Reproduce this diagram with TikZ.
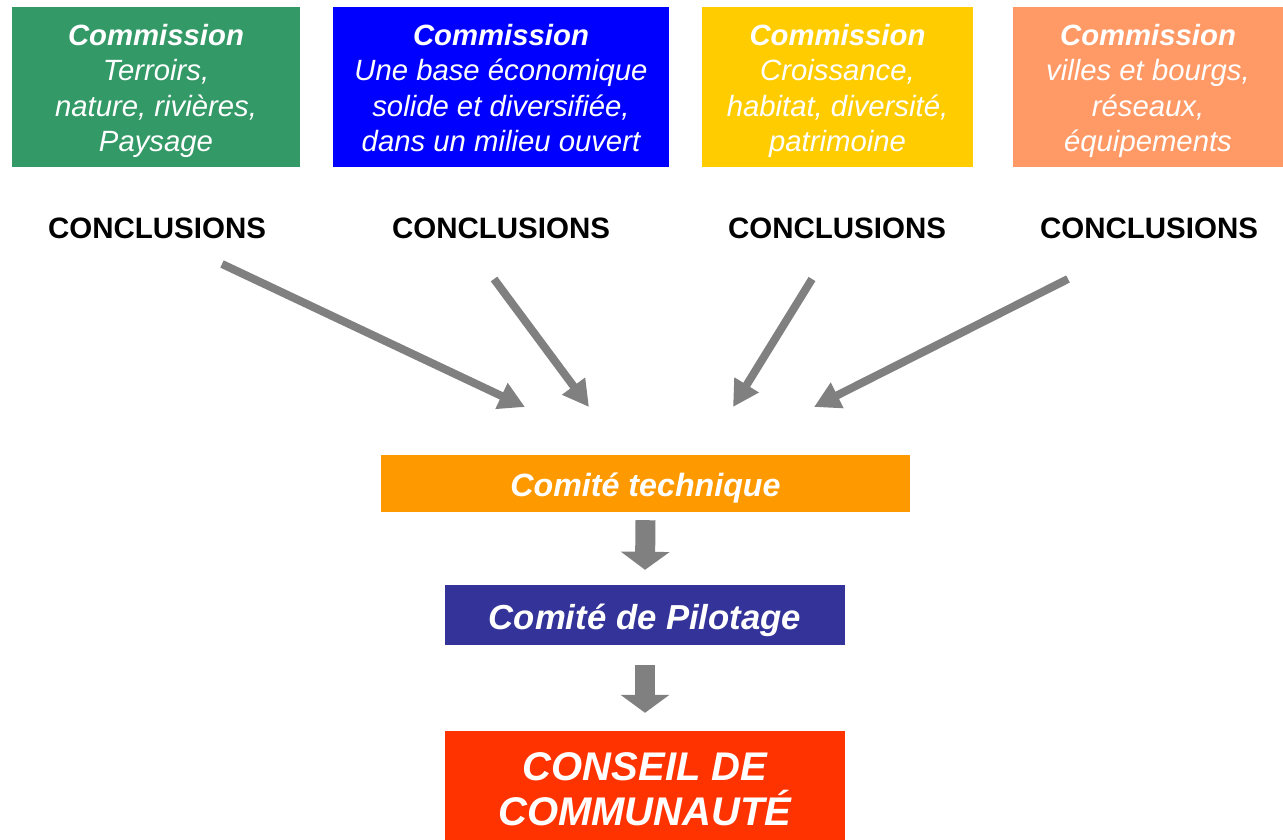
\documentclass[tikz,border=0pt]{standalone}
\usepackage{fontspec}
\setmainfont{Liberation Sans}
\usetikzlibrary{arrows.meta}
\definecolor{cgreen}{HTML}{339966}
\definecolor{cblue}{HTML}{0000FF}
\definecolor{cyellow}{HTML}{FFCC00}
\definecolor{csalmon}{HTML}{FF9966}
\definecolor{corange}{HTML}{FF9900}
\definecolor{cpurple}{HTML}{333399}
\definecolor{cred}{HTML}{FF3300}
\definecolor{cgray}{HTML}{808080}
\tikzset{
  commbox/.style={inner sep=0pt, minimum height=160pt},
  commtext/.style={inner sep=0pt, align=center, text=white,
    font=\fontsize{29.3}{35.3}\selectfont\itshape},
  concl/.style={inner sep=0pt, font=\fontsize{29.5}{35}\selectfont\bfseries},
  thinarrow/.style={draw=cgray, line width=8pt, -{Triangle[length=26pt,width=27pt]}},
  blockarrow/.style={draw=cgray, line width=20pt, -{Triangle[length=18pt,width=48pt]}},
  midbox/.style={inner sep=0pt},
  midtext/.style={inner sep=0pt, align=center, text=white}
}
\begin{document}
\begin{tikzpicture}[x=1pt,y=-1pt]
\useasboundingbox (0,0) rectangle (1283,839);
\node[commbox, fill=cgreen, minimum width=288pt] (c1) at (156,87) {};
\node[commtext] (t1) at ([yshift=-4.5pt]c1.center)
  {\strut\textbf{Commission}\\Terroirs,\\nature, rivières,\\Paysage\strut};
\node[commbox, fill=cblue, minimum width=336pt] (c2) at (501,87) {};
\node[commtext] (t2) at ([yshift=-4.5pt]c2.center)
  {\strut\textbf{Commission}\\Une base économique\\solide et diversifiée,\\dans un milieu ouvert\strut};
\node[commbox, fill=cyellow, minimum width=271pt] (c3) at (837.5,87) {};
\node[commtext] (t3) at ([yshift=-4.5pt]c3.center)
  {\strut\textbf{Commission}\\Croissance,\\habitat, diversité,\\patrimoine\strut};
\node[commbox, fill=csalmon, minimum width=270pt] (c4) at (1148,87) {};
\node[commtext] (t4) at ([yshift=-4.5pt]c4.center)
  {\strut\textbf{Commission}\\villes et bourgs,\\réseaux,\\équipements\strut};

\node[concl] (k1) at (157,228) {CONCLUSIONS};
\node[concl] (k2) at (501,228) {CONCLUSIONS};
\node[concl] (k3) at (837,228) {CONCLUSIONS};
\node[concl] (k4) at (1149,228) {CONCLUSIONS};

\coordinate (s1) at (222,264);
\coordinate (s2) at (494,279);
\coordinate (s3) at (812,279);
\coordinate (s4) at (1068,279);
\coordinate (e1) at (525,407);
\coordinate (e2) at (589,407);
\coordinate (e3) at (733,407);
\coordinate (e4) at (814,407);
\draw[thinarrow] (s1) -- (e1);
\draw[thinarrow] (s2) -- (e2);
\draw[thinarrow] (s3) -- (e3);
\draw[thinarrow] (s4) -- (e4);

\node[midbox, fill=corange, minimum width=529pt, minimum height=57pt] (ct) at (645.5,483.5) {};
\node[midtext, font=\fontsize{32.2}{38}\selectfont\bfseries\itshape] (ctt)
  at ([yshift=-4.5pt]ct.center) {Comité technique};
\node[midbox, fill=cpurple, minimum width=400pt, minimum height=60pt] (cp) at (645,615) {};
\node[midtext, font=\fontsize{34.7}{40}\selectfont\bfseries\itshape] (cpt)
  at ([yshift=-5pt]cp.center) {Comité de Pilotage};
\node[midbox, fill=cred, minimum width=400pt, minimum height=110pt] (cc) at (645,786) {};
\node[midtext, font=\fontsize{40}{45}\selectfont\bfseries\itshape] (cct)
  at ([yshift=-3pt]cc.center) {CONSEIL DE\\COMMUNAUTÉ};

\draw[blockarrow] ([yshift=-8pt]ct.south) -- ([yshift=15pt]cp.north);
\draw[blockarrow] ([yshift=-20pt]cp.south) -- ([yshift=18pt]cc.north);
\end{tikzpicture}
\end{document}
